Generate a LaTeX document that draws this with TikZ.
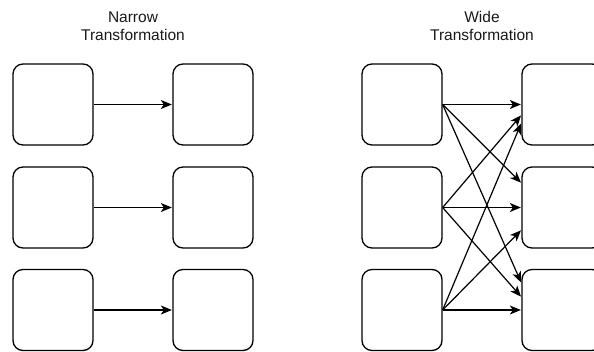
\documentclass[tikz,border=0pt]{standalone}
\usepackage{fontspec}
\setmainfont{Liberation Sans}
\usetikzlibrary{arrows.meta}
\begin{document}
\begin{tikzpicture}[x=1pt,y=-1pt,
  part/.style={draw=black,line width=1.3pt,rounded corners=10pt,
    minimum width=80pt,minimum height=81pt,inner sep=0pt},
  link/.style={draw=black,line width=1.2pt,
    -{Stealth[length=11pt,width=9pt,inset=3pt]},shorten >=0.5pt},
  title/.style={align=center,font=\fontsize{15.5}{18}\selectfont,text=black!90}]
\useasboundingbox (0,0) rectangle (594,351);

% headings
\node[title] (tn) at (133,26) {Narrow\\Transformation};
\node[title] (tw) at (482,26) {Wide\\Transformation};

% narrow transformation: one-to-one
\node[part] (na1) at (53,104.5) {};
\node[part] (na2) at (53,207.5) {};
\node[part] (na3) at (53,310) {};
\node[part] (nb1) at (213,104.5) {};
\node[part] (nb2) at (213,207.5) {};
\node[part] (nb3) at (213,310) {};
\draw[link] (na1.east) -- (nb1.west);
\draw[link] (na2.east) -- (nb2.west);
\draw[link] (na3.east) -- (nb3.west);

% wide transformation: every input feeds every output
\node[part] (wa1) at (402,104.5) {};
\node[part] (wa2) at (402,207.5) {};
\node[part] (wa3) at (402,310) {};
\node[part] (wb1) at (562,104.5) {};
\node[part] (wb2) at (562,207.5) {};
\node[part] (wb3) at (562,310) {};

\draw[link] (wa1.east) -- (wb1.west);
\draw[link] (wa2.east) -- ([yshift=-10.5pt]wb1.west);
\draw[link] (wa3.east) -- ([yshift=-18.5pt]wb1.west);

\draw[link] (wa1.east) -- ([yshift=24.5pt]wb2.west);
\draw[link] (wa2.east) -- (wb2.west);
\draw[link] (wa3.east) -- ([yshift=-22.5pt]wb2.west);

\draw[link] (wa1.east) -- ([yshift=27pt]wb3.west);
\draw[link] (wa2.east) -- ([yshift=13pt]wb3.west);
\draw[link] (wa3.east) -- (wb3.west);
\end{tikzpicture}
\end{document}
